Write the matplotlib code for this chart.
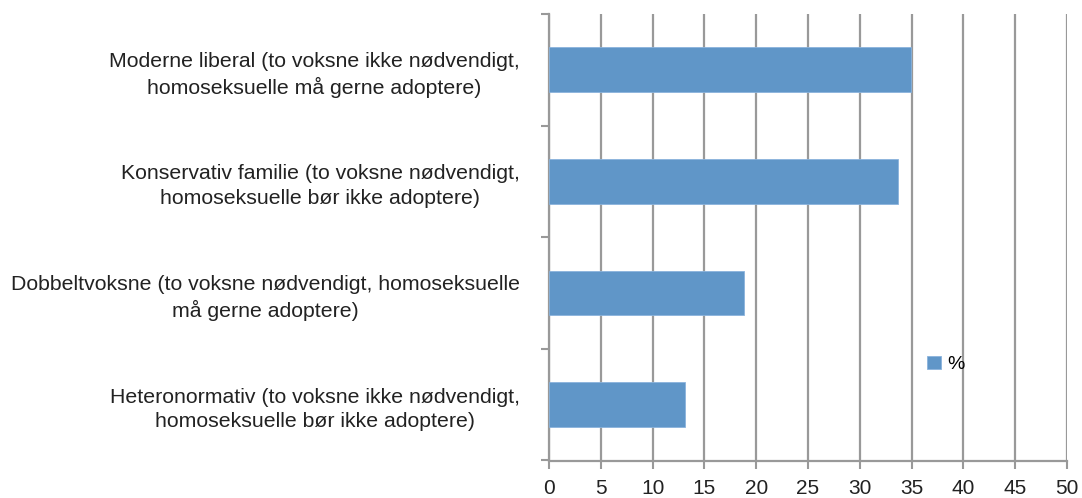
import numpy as np
import matplotlib.pyplot as plt

categories = [
    "Moderne liberal (to voksne ikke nødvendigt,\nhomoseksuelle må gerne adoptere)",
    "Konservativ familie (to voksne nødvendigt,\nhomoseksuelle bør ikke adoptere)",
    "Dobbeltvoksne (to voksne nødvendigt, homoseksuelle\nmå gerne adoptere)",
    "Heteronormativ (to voksne ikke nødvendigt,\nhomoseksuelle bør ikke adoptere)",
]
values = [34.9, 33.7, 18.8, 13.1]
xticks = list(range(0, 51, 5))

plt.rcParams['font.family'] = ['Liberation Sans', 'DejaVu Sans']

fig = plt.figure(figsize=(10.82, 4.98), dpi=100)
ax = fig.add_axes([549/1082, 1 - 460.5/498, 518/1082, 446.5/498])

y = np.arange(len(categories))[::-1]
ax.barh(y, values, height=0.4, color='#6096c8', edgecolor='#8ab3dc', linewidth=0.6,
        label='%', zorder=3)

ax.set_xlim(0, 50)
ax.set_ylim(-0.5, len(categories) - 0.5)
ax.set_xticks(xticks)
ax.set_xticklabels([str(t) for t in xticks], fontsize=15, color='#222222')
ax.set_yticks(y)
ax.set_yticklabels(categories, fontsize=15.3, color='#222222', linespacing=1.35)
for lab in ax.get_yticklabels():
    lab.set_multialignment('center')

# category separators as ticks
ax.set_yticks(np.arange(-0.5, len(categories), 1), minor=True)
ax.tick_params(axis='y', which='major', length=0, pad=21)
ax.tick_params(axis='y', which='minor', length=6, width=1.5, color='#999999')
ax.tick_params(axis='x', length=6, width=1.5, color='#999999', pad=7)

ax.grid(axis='x', color='#999999', linewidth=1.6, zorder=0)
for s in ['top', 'right']:
    ax.spines[s].set_visible(False)
for s in ['left', 'bottom']:
    ax.spines[s].set_color('#999999')
    ax.spines[s].set_linewidth(1.6)

ax.legend(loc='center', bbox_to_anchor=(0.766, 0.215), frameon=False, fontsize=14,
          handlelength=0.7, handleheight=0.7, handletextpad=0.3)

fig.savefig('out.png', dpi=100, facecolor='white')
